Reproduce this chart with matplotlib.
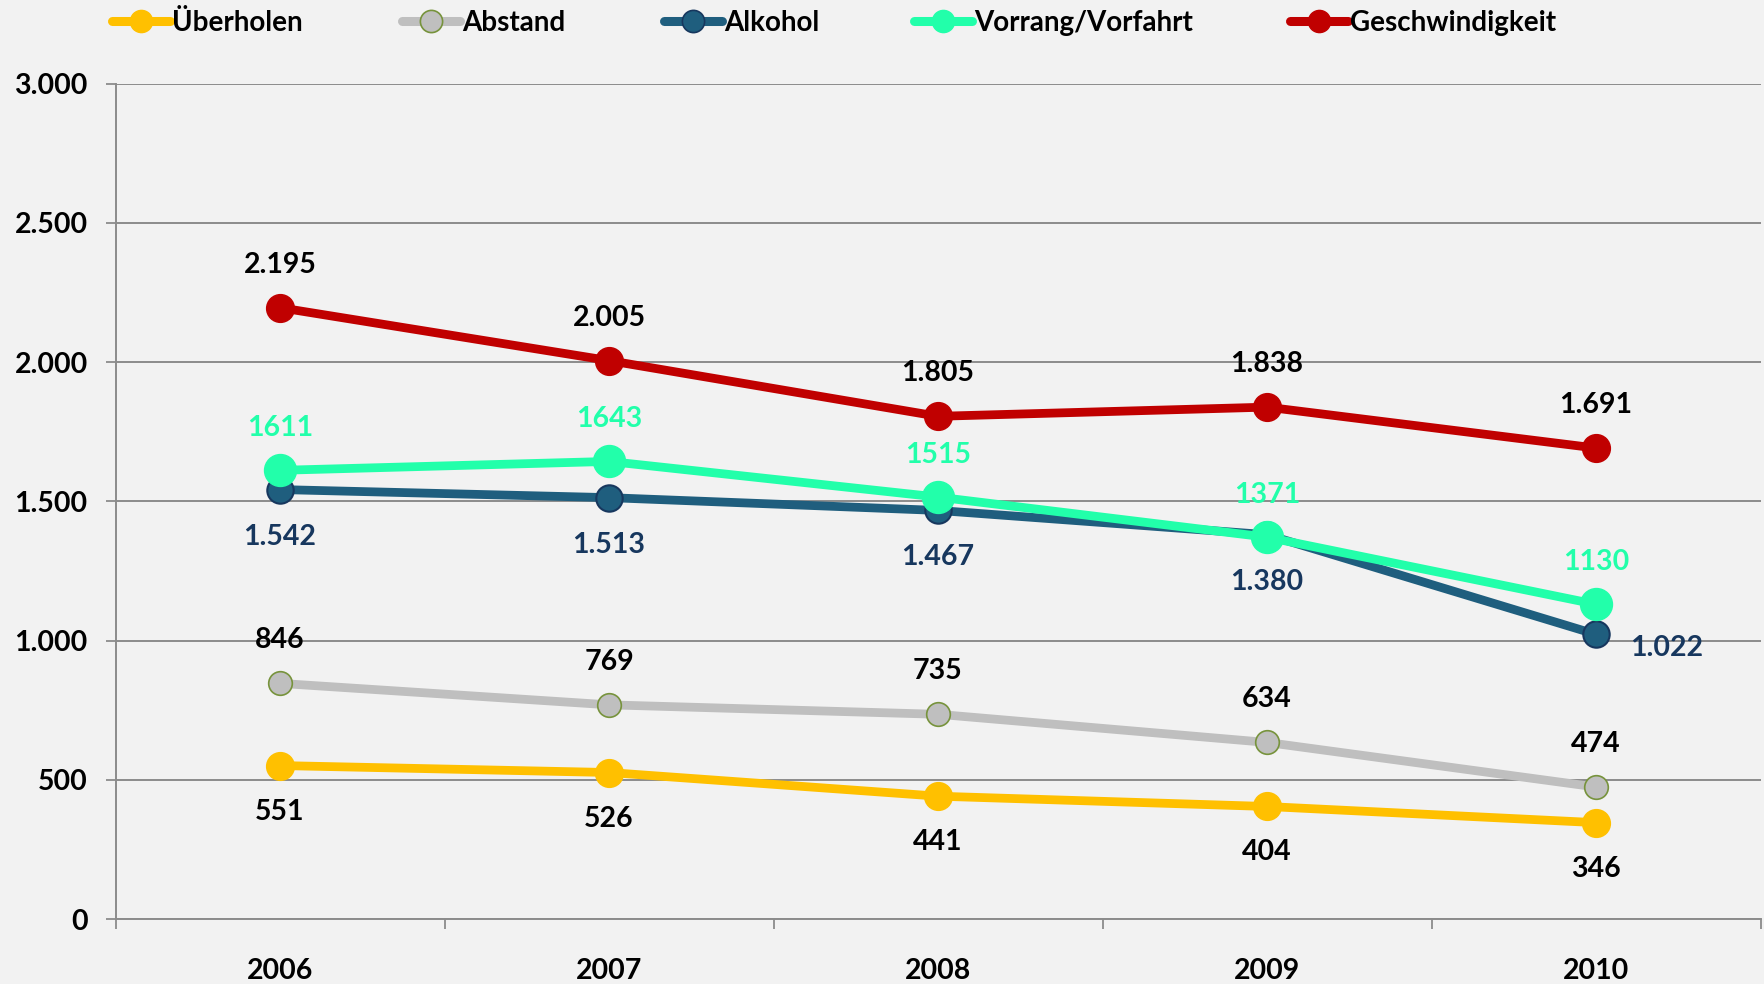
import matplotlib
matplotlib.use("Agg")
import matplotlib.pyplot as plt
from matplotlib.lines import Line2D

years = ["2006", "2007", "2008", "2009", "2010"]
ueberholen = [551, 526, 441, 404, 346]
abstand = [846, 769, 735, 634, 474]
alkohol = [1542, 1513, 1467, 1380, 1022]
vorrang = [1611, 1643, 1515, 1371, 1130]
geschw = [2195, 2005, 1805, 1838, 1691]
y_ticks = [0, 500, 1000, 1500, 2000, 2500, 3000]
y_tick_labels = ["0", "500", "1.000", "1.500", "2.000", "2.500", "3.000"]

def de(v):
    s = f"{v:,}"
    return s.replace(",", ".")

plt.rcParams['font.family'] = ['Lato', 'DejaVu Sans']
plt.rcParams['font.weight'] = 'bold'

W, H = 1764, 984
fig = plt.figure(figsize=(W / 100, H / 100), dpi=100, facecolor="#F2F2F2")
ax = fig.add_axes([115.5 / W, (H - 919) / H, (1760.5 - 115.5) / W, (919 - 83.5) / H])
ax.set_facecolor("#F2F2F2")

x = list(range(len(years)))
grid_c = "#8C8C8C"

# series
ax.plot(x, ueberholen, color="#FFC000", lw=6.3, marker="o", ms=20,
        mfc="#FFC000", mec="#FFC000", zorder=3)
ax.plot(x, abstand, color="#BFBFBF", lw=6.3, marker="o", ms=17,
        mfc="#BFBFBF", mec="#77933C", mew=1.2, zorder=3)
ax.plot(x, alkohol, color="#1F5E7E", lw=6.3, marker="o", ms=19,
        mfc="#1F5E7E", mec="#17375E", mew=1.5, zorder=3)
ax.plot(x, vorrang, color="#22FFAA", lw=6.3, marker="o", ms=23,
        mfc="#22FFAA", mec="#22FFAA", zorder=4)
ax.plot(x, geschw, color="#C00000", lw=6.3, marker="o", ms=20,
        mfc="#C00000", mec="#C00000", zorder=5)

lab_fs = 20.5
for i in x:
    ax.annotate(de(geschw[i]), (i, geschw[i]), xytext=(0, 43), textcoords="offset pixels",
                ha="center", va="center", fontsize=lab_fs, fontweight="bold", color="black", zorder=6)
    ax.annotate(str(vorrang[i]), (i, vorrang[i]), xytext=(0, 42), textcoords="offset pixels",
                ha="center", va="center", fontsize=lab_fs, fontweight="bold", color="#22FFAA", zorder=6)
    if i < 4:
        off = (0, -47)
    else:
        off = (71, -14)
    ax.annotate(de(alkohol[i]), (i, alkohol[i]), xytext=off, textcoords="offset pixels",
                ha="center", va="center", fontsize=lab_fs, fontweight="bold", color="#17375E", zorder=6)
    ax.annotate(de(abstand[i]), (i, abstand[i]), xytext=(0, 43), textcoords="offset pixels",
                ha="center", va="center", fontsize=lab_fs, fontweight="bold", color="black", zorder=6)
    ax.annotate(de(ueberholen[i]), (i, ueberholen[i]), xytext=(0, -46), textcoords="offset pixels",
                ha="center", va="center", fontsize=lab_fs, fontweight="bold", color="black", zorder=6)

# axes
ax.set_xlim(-0.5, len(years) - 0.5)
ax.set_ylim(0, 3000)
ax.set_yticks(y_ticks)
ax.set_yticklabels(y_tick_labels)
ax.set_xticks(x)
ax.set_xticklabels(years)
ax.set_xticks([i - 0.5 for i in range(len(years) + 1)], minor=True)
ax.tick_params(axis="x", which="major", length=0, pad=28, labelsize=20.5)
ax.tick_params(axis="x", which="minor", length=7, width=1.3, color=grid_c, direction="out")
ax.tick_params(axis="y", length=7, width=1.3, color=grid_c, pad=13, labelsize=20.5)
for t in ax.get_xticklabels() + ax.get_yticklabels():
    t.set_fontweight("bold")

ax.yaxis.grid(True, color=grid_c, lw=1.4)
ax.set_axisbelow(True)
for s in ["top", "right"]:
    ax.spines[s].set_visible(False)
for s in ["left", "bottom"]:
    ax.spines[s].set_color(grid_c)
    ax.spines[s].set_linewidth(1.4)

# legend (one entry each, positioned like the reference)
leg_items = [
    ("Überholen", dict(color="#FFC000", mfc="#FFC000", mec="#FFC000"), 112),
    ("Abstand", dict(color="#BFBFBF", mfc="#BFBFBF", mec="#77933C", mew=1.2), 402),
    ("Alkohol", dict(color="#1F5E7E", mfc="#1F5E7E", mec="#17375E", mew=1.2), 664),
    ("Vorrang/Vorfahrt", dict(color="#22FFAA", mfc="#22FFAA", mec="#22FFAA"), 914),
    ("Geschwindigkeit", dict(color="#C00000", mfc="#C00000", mec="#C00000"), 1290),
]
for name, kw, xpix in leg_items:
    h = Line2D([0], [0], lw=6.5, marker="o", ms=16, solid_capstyle="round", **kw)
    fig.legend(handles=[h], labels=[name], loc="center left",
               bbox_to_anchor=(xpix / W, 1 - 23 / H), frameon=False,
               handlelength=2.1, handletextpad=0.05, borderpad=0, borderaxespad=0,
               prop=dict(family=['Lato', 'DejaVu Sans'], weight="bold", size=20))

fig.savefig("out.png", dpi=100, facecolor=fig.get_facecolor())
